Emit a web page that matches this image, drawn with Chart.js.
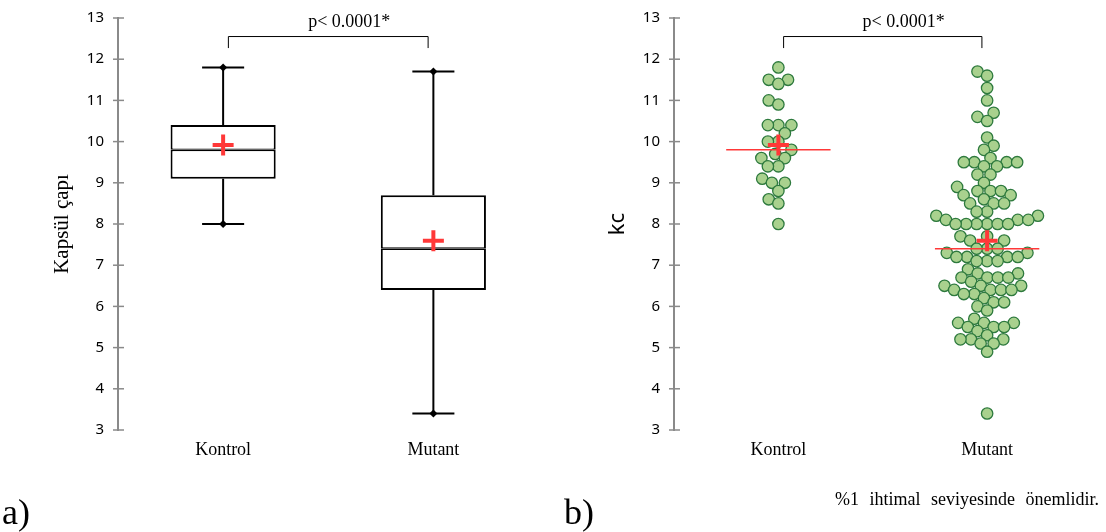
<!DOCTYPE html>
<html>
<head>
<meta charset="utf-8">
<script src="https://cdn.jsdelivr.net/npm/chart.js@4.4.1/dist/chart.umd.min.js"></script>
<style>
  html, body { margin: 0; padding: 0; background: #fff; }
  #wrap { position: relative; width: 1106px; height: 532px; overflow: hidden; }
  .panel { position: absolute; top: 0; width: 553px; height: 532px; }
  #panelA { left: 0; }
  #panelB { left: 553px; }
  .tag { position: absolute; font-family: "Liberation Serif", serif; font-size: 36px; line-height: 1; color: #000; }
  .note { position: absolute; font-family: "Liberation Serif", serif; font-size: 18px; line-height: 1; color: #000; word-spacing: 6px; white-space: nowrap; }
</style>
</head>
<body>
<div id="wrap">
  <div class="panel" id="panelA"><canvas id="boxChart"></canvas></div>
  <div class="panel" id="panelB"><canvas id="dotChart"></canvas></div>
  <div class="tag" style="left:2px; top:494px;">a)</div>
  <div class="tag" style="left:564px; top:494px;">b)</div>
  <div class="note" id="note" style="left:835px; top:490px;"></div>
</div>
<script>
const groups = ["Kontrol", "Mutant"];

const kontrolValues = [
  11.8, 11.5, 11.5, 11.4, 11.0, 10.9, 10.4, 10.4, 10.4, 10.2, 10.0, 10.0, 9.8,
  9.7, 9.6, 9.6, 9.4, 9.4, 9.1, 9.0, 9.0, 8.8, 8.6, 8.5, 8.0,
];

const mutantValues = [
  11.7, 11.6, 11.3, 11.0, 10.7, 10.6, 10.5, 10.1, 9.9, 9.8, 9.6,
  9.5, 9.5, 9.5, 9.5, 9.4, 9.4, 9.2, 9.2, 9.0, 8.9, 8.8, 8.8, 8.8,
  8.7, 8.7, 8.6, 8.5, 8.5, 8.5, 8.3, 8.3, 8.2, 8.2, 8.1, 8.1, 8.1,
  8.0, 8.0, 8.0, 8.0, 8.0, 8.0,
  7.7, 7.7, 7.6, 7.6, 7.4, 7.4, 7.4, 7.3, 7.3, 7.2, 7.2, 7.2, 7.2, 7.1, 7.1, 7.1,
  6.9, 6.8, 6.8, 6.7, 6.7, 6.7, 6.7, 6.6, 6.5, 6.5, 6.5, 6.4, 6.4, 6.4, 6.4,
  6.3, 6.3, 6.2, 6.1, 6.1, 6.0, 5.9,
  5.7, 5.6, 5.6, 5.6, 5.5, 5.5, 5.5, 5.4, 5.3, 5.2, 5.2, 5.2, 5.1, 5.1, 4.9, 3.4,
];

const yMin = 3;
const yMax = 13;
const yStep = 1;

const pLabel = "p< 0.0001*";
const boxTitle = "Kapsül çapı";
const dotTitle = "kc";
const noteText = "%1 ihtimal seviyesinde önemlidir.";

document.getElementById("note").textContent = noteText;

const AXIS_GRAY = "#8a8a8a";
const RED = "#ff3838";
const SERIF = "'Liberation Serif', 'Times New Roman', serif";
const SANS = "'Noto Sans', 'Open Sans', sans-serif";
const GAP = { x: NaN, y: NaN }; // breaks a line between segments

// quantile with linear interpolation between order statistics
function quantile(sorted, p) {
  const pos = (sorted.length - 1) * p;
  const lo = Math.floor(pos);
  const hi = Math.ceil(pos);
  return sorted[lo] + (sorted[hi] - sorted[lo]) * (pos - lo);
}

function summary(values) {
  const s = [...values].sort((a, b) => a - b);
  return {
    min: s[0],
    q1: quantile(s, 0.25),
    median: quantile(s, 0.5),
    q3: quantile(s, 0.75),
    max: s[s.length - 1],
    mean: s.reduce((a, b) => a + b, 0) / s.length,
  };
}

const stats = [summary(kontrolValues), summary(mutantValues)];

// y axis ticks cross the axis line: draw the inner half here
const crossTicks = {
  id: "crossTicks",
  afterDraw(chart) {
    const y = chart.scales.y;
    const ctx = chart.ctx;
    const x0 = y.right;
    ctx.save();
    ctx.strokeStyle = AXIS_GRAY;
    ctx.lineWidth = 1.5;
    y.ticks.forEach((t, i) => {
      const py = y.getPixelForTick(i);
      ctx.beginPath();
      ctx.moveTo(x0 - 5, py);
      ctx.lineTo(x0 + 6, py);
      ctx.stroke();
    });
    ctx.restore();
  },
};

// significance bracket between the two groups
const bracket = {
  id: "bracket",
  afterDatasetsDraw(chart) {
    const { x, y } = chart.scales;
    const ctx = chart.ctx;
    const xl = x.getPixelForValue(0.025);
    const xr = x.getPixelForValue(0.975);
    const yTop = y.getPixelForValue(12.55);
    const yLeg = y.getPixelForValue(12.27);
    ctx.save();
    ctx.strokeStyle = "#000";
    ctx.lineWidth = 1;
    ctx.beginPath();
    ctx.moveTo(xl, yLeg);
    ctx.lineTo(xl, yTop);
    ctx.lineTo(xr, yTop);
    ctx.lineTo(xr, yLeg);
    ctx.stroke();
    ctx.fillStyle = "#000";
    ctx.font = "18px " + SERIF;
    ctx.textAlign = "center";
    ctx.textBaseline = "middle";
    ctx.fillText(pLabel, x.getPixelForValue(0.6), y.getPixelForValue(12.9));
    ctx.restore();
  },
};

function makeScales(title, titleFont, titlePad, axisWidth) {
  return {
    x: {
      type: "linear",
      min: -0.5,
      max: 1.5,
      offset: false,
      afterBuildTicks: (s) => {
        s.ticks = groups.map((g, i) => ({ value: i }));
      },
      afterFit: (s) => {
        s.height = 102;
      },
      ticks: {
        callback: (v) => groups[v],
        autoSkip: false,
        maxRotation: 0,
        color: "#000",
        padding: 9,
        font: { family: SERIF, size: 18 },
      },
      grid: { display: false, drawTicks: false, offset: false },
      border: { display: false },
    },
    y: {
      min: yMin,
      max: yMax,
      afterFit: (s) => {
        s.width = axisWidth;
      },
      ticks: {
        stepSize: yStep,
        color: "#000",
        padding: 9,
        font: { family: SANS, size: 15 },
      },
      grid: { display: false, drawTicks: true, tickLength: 5 },
      border: { display: true, color: AXIS_GRAY, width: 2 },
      title: {
        display: true,
        text: title,
        color: "#000",
        font: titleFont,
        padding: { top: titlePad, bottom: 0 },
      },
    },
  };
}

const commonOptions = {
  responsive: true,
  maintainAspectRatio: false,
  animation: false,
  events: [],
  plugins: { legend: { display: false }, tooltip: { enabled: false } },
};

// ---- a) box plot ----
const whiskerData = [];
const capData = [];
stats.forEach((st, i) => {
  whiskerData.push({ x: i, y: st.min }, { x: i, y: st.q1 }, GAP, { x: i, y: st.q3 }, { x: i, y: st.max }, GAP);
  capData.push({ x: i - 0.1, y: st.min }, { x: i + 0.1, y: st.min }, GAP, { x: i - 0.1, y: st.max }, { x: i + 0.1, y: st.max }, GAP);
});

// box drawn as two stacked floating bars so the shared edge is the median
const boxHalf = (lo, hi, inner) => ({
  backgroundColor: "#fff",
  borderColor: "#000",
  borderWidth: inner === "bottom"
    ? { top: 2, left: 2, right: 2, bottom: 1.4 }
    : { top: 1.4, left: 2, right: 2, bottom: 2 },
  borderSkipped: false,
  grouped: false,
  categoryPercentage: 1,
  barPercentage: 0.5,
  data: stats.map((st, i) => ({ x: i, y: [st[lo], st[hi]] })),
});

const boxChart = new Chart(document.getElementById("boxChart"), {
  type: "bar",
  data: {
    datasets: [
      {
        type: "scatter",
        label: "mean",
        data: stats.map((st, i) => ({ x: i, y: st.mean })),
        pointStyle: "cross",
        pointRadius: 10.5,
        pointBorderWidth: 4,
        pointBorderColor: RED,
        pointBackgroundColor: RED,
      },
      {
        type: "scatter",
        label: "ends",
        data: stats.flatMap((st, i) => [{ x: i, y: st.min }, { x: i, y: st.max }]),
        pointStyle: "rectRot",
        pointRadius: 4,
        pointBorderWidth: 0,
        pointBackgroundColor: "#000",
      },
      { label: "upper box", ...boxHalf("median", "q3", "bottom") },
      { label: "lower box", ...boxHalf("q1", "median", "top") },
      {
        type: "scatter",
        label: "caps",
        data: capData,
        showLine: true,
        spanGaps: false,
        borderColor: "#000",
        borderWidth: 2,
        pointRadius: 0,
      },
      {
        type: "scatter",
        label: "whiskers",
        data: whiskerData,
        showLine: true,
        spanGaps: false,
        borderColor: "#000",
        borderWidth: 2,
        pointRadius: 0,
      },
    ],
  },
  options: {
    ...commonOptions,
    layout: { padding: { top: 11, right: 9, left: 0, bottom: 0 } },
    scales: makeScales(boxTitle, { family: SERIF, size: 21 }, 50, 118),
  },
  plugins: [crossTicks, bracket],
});

// ---- b) dot plot with swarm layout ----
function swarmOffsets(values, toPx, diameter) {
  const order = values.map((v, i) => i).sort((a, b) => values[a] - values[b]);
  const placed = [];
  const out = new Array(values.length).fill(0);
  order.forEach((i) => {
    const py = toPx(values[i]);
    const near = placed.filter((p) => Math.abs(p.y - py) < diameter);
    const cands = [0];
    near.forEach((p) => {
      const dx = Math.sqrt(diameter * diameter - (p.y - py) ** 2);
      cands.push(p.x - dx, p.x + dx);
    });
    const ok = cands.filter((c) => near.every((p) => Math.hypot(p.x - c, p.y - py) >= diameter - 1e-6));
    ok.sort((a, b) => Math.abs(a) - Math.abs(b));
    out[i] = ok[0];
    placed.push({ x: ok[0], y: py });
  });
  return out;
}

const medianLines = [];
stats.forEach((st, i) => {
  medianLines.push({ x: i - 0.25, y: st.median }, { x: i + 0.25, y: st.median }, GAP);
});

const groupValues = [kontrolValues, mutantValues];

const dotChart = new Chart(document.getElementById("dotChart"), {
  type: "scatter",
  data: {
    datasets: [
      {
        label: "mean",
        data: stats.map((st, i) => ({ x: i, y: st.mean })),
        pointStyle: "cross",
        pointRadius: 10.5,
        pointBorderWidth: 4,
        pointBorderColor: RED,
      },
      {
        label: "median",
        data: medianLines,
        showLine: true,
        spanGaps: false,
        borderColor: RED,
        borderWidth: 1.5,
        pointRadius: 0,
      },
      ...groupValues.map((vals, g) => ({
        label: groups[g],
        data: vals.map((v) => ({ x: g, y: v })),
        pointRadius: 5.7,
        pointBorderWidth: 1.3,
        pointBackgroundColor: "#a9d18e",
        pointBorderColor: "#2e7a3e",
      })),
    ],
  },
  options: {
    ...commonOptions,
    layout: { padding: { top: 11, right: 6, left: 0, bottom: 0 } },
    scales: makeScales(dotTitle, { family: SANS, size: 22 }, 52, 121),
  },
  plugins: [crossTicks, bracket],
});

// spread each group's points sideways now that the scales are laid out
(function layoutSwarm() {
  const xs = dotChart.scales.x;
  const ys = dotChart.scales.y;
  const pxPerUnit = xs.getPixelForValue(1) - xs.getPixelForValue(0);
  groupValues.forEach((vals, g) => {
    const offs = swarmOffsets(vals, (v) => ys.getPixelForValue(v), 10.5);
    dotChart.data.datasets[2 + g].data = vals.map((v, i) => ({ x: g + offs[i] / pxPerUnit, y: v }));
  });
  dotChart.update("none");
})();
</script>
</body>
</html>
